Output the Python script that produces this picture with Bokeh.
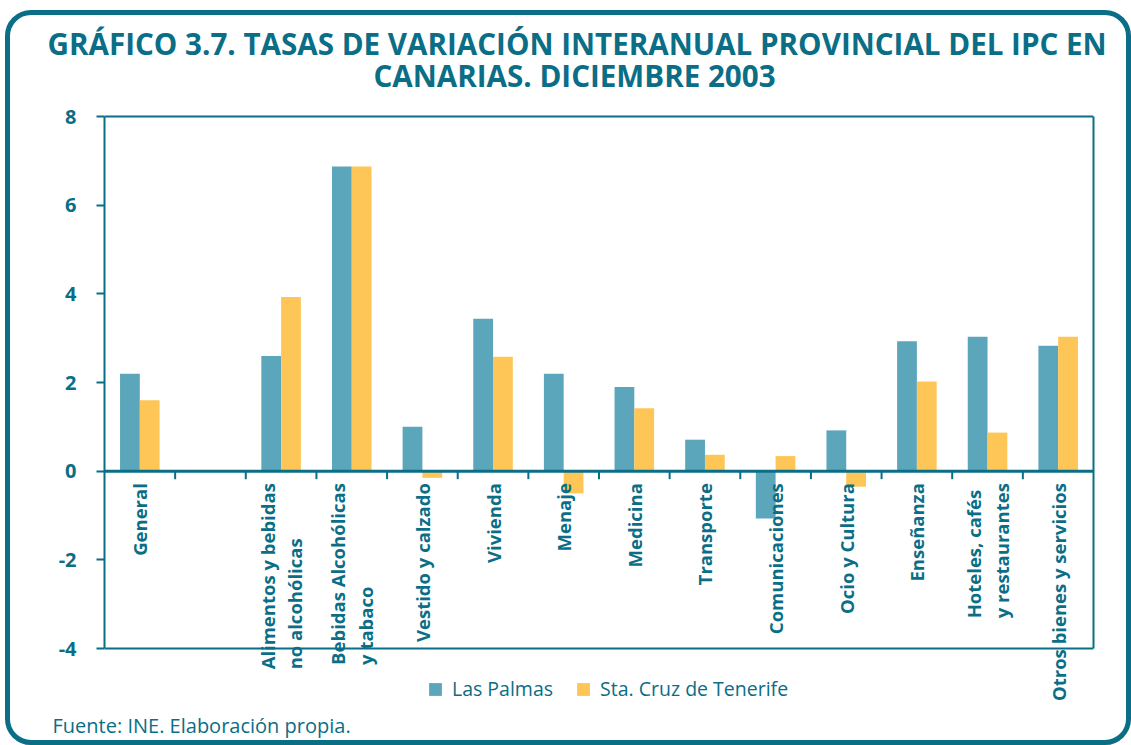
import math
from bokeh.plotting import figure
from bokeh.models import (ColumnDataSource, FactorRange, Range1d, LabelSet, Title,
                          Legend, LegendItem, Span, LinearAxis, InlineStyleSheet)
from bokeh.transform import dodge
from bokeh.core.properties import value
from bokeh.embed import file_html
from bokeh.resources import INLINE

NaN = float("nan")

categories = [
    "General", " ", "Alimentos y bebidas\nno alcohólicas", "Bebidas Alcohólicas\ny tabaco",
    "Vestido y calzado", "Vivienda", "Menaje", "Medicina", "Transporte", "Comunicaciones",
    "Ocio y Cultura", "Enseñanza", "Hoteles, cafés\ny restaurantes", "Otros bienes y servicios",
]
las_palmas = [2.2, NaN, 2.6, 6.87, 1.0, 3.44, 2.2, 1.9, 0.71, -1.07, 0.92, 2.93, 3.03, 2.83]
tenerife = [1.6, NaN, 3.93, 6.87, -0.15, 2.58, -0.5, 1.42, 0.37, 0.34, -0.35, 2.02, 0.87, 3.03]
series_names = ["Las Palmas", "Sta. Cruz de Tenerife"]
y_ticks = [-4, -2, 0, 2, 4, 6, 8]
title_lines = ["GRÁFICO 3.7. TASAS DE VARIACIÓN INTERANUAL PROVINCIAL DEL IPC EN",
               "CANARIAS. DICIEMBRE 2003"]
source_text = "Fuente: INE. Elaboración propia."

TEAL = "#0A6E86"
BLUE = "#5CA6BC"
ORANGE = "#FEC656"
FONT = "Open Sans"

src = ColumnDataSource(dict(cat=categories, lp=las_palmas, tf=tenerife,
                            zero=[0] * len(categories)))

# frame: x 104..1093, y 114..708 ; y=8 at 116, y=-4 at 648
px_per_unit = (648 - 116) / (y_ticks[-1] - y_ticks[0])
y_end = y_ticks[-1] + 2 / px_per_unit
y_start = y_ticks[0] - 60 / px_per_unit

p = figure(width=1131, height=745, output_backend="svg", toolbar_location=None, title=None,
           x_range=FactorRange(*categories, range_padding=0, factor_padding=0),
           y_range=Range1d(y_start, y_end),
           min_border_left=104, min_border_right=38, min_border_top=114, min_border_bottom=37)
p.background_fill_color = "white"
p.border_fill_color = "white"
p.outline_line_color = None
p.xgrid.visible = False
p.ygrid.visible = False
p.xaxis.visible = False

# rounded outer frame (CSS on the plot host)
p.stylesheets = [InlineStyleSheet(css=(
    ":host::after { content: ''; position: absolute; left: 5px; top: 10px; right: 0px; "
    "bottom: 0px; border: 5px solid " + TEAL + "; border-radius: 26px; box-sizing: border-box; "
    "pointer-events: none; z-index: 10; }"))]

# title lines (added nearest-first)
p.add_layout(Title(text=title_lines[1], align="left", offset=269, standoff=37,
                   text_font=FONT, text_font_size="29.6px", text_font_style="bold",
                   text_color=TEAL), "above")
p.add_layout(Title(text=title_lines[0], align="left", offset=-57, standoff=-58,
                   text_font=FONT, text_font_size="29.6px", text_font_style="bold",
                   text_color=TEAL), "above")

# source note
p.add_layout(Title(text=source_text, align="left", offset=-52, standoff=2,
                   text_font=FONT, text_font_size="20px", text_font_style="normal",
                   text_color=TEAL), "below")

# y axis
ax = p.yaxis[0]
ax.ticker = y_ticks
ax.bounds = (y_ticks[0], y_ticks[-1])
ax.axis_line_color = TEAL
ax.axis_line_width = 2
ax.major_tick_line_color = TEAL
ax.major_tick_line_width = 2
ax.major_tick_out = 8
ax.major_tick_in = 0
ax.minor_tick_line_color = None
ax.major_label_text_font = FONT
ax.major_label_text_font_style = "bold"
ax.major_label_text_font_size = "20px"
ax.major_label_text_color = TEAL
ax.major_label_standoff = 20
ax.major_label_overrides = {t: str(t) for t in y_ticks}

ax2 = LinearAxis(ticker=y_ticks, bounds=(y_ticks[0], y_ticks[-1]), axis_line_color=TEAL,
                 axis_line_width=2, major_tick_line_color=None, minor_tick_line_color=None,
                 major_label_text_font_size="0px", major_label_text_color=None)
p.add_layout(ax2, "right")

r1 = p.vbar(x=dodge("cat", -0.14, range=p.x_range), top="lp", width=0.28, source=src,
            fill_color=BLUE, line_color=None)
r2 = p.vbar(x=dodge("cat", 0.14, range=p.x_range), top="tf", width=0.28, source=src,
            fill_color=ORANGE, line_color=None)

# box lines and zero line
p.add_layout(Span(location=y_ticks[-1], dimension="width", line_color=TEAL, line_width=2))
p.add_layout(Span(location=y_ticks[0], dimension="width", line_color=TEAL, line_width=2))
p.add_layout(Span(location=0, dimension="width", line_color=TEAL, line_width=3))
bounds = list(range(1, len(categories)))
p.segment(x0=bounds, x1=bounds, y0=[0] * len(bounds), y1=[-0.18] * len(bounds),
          line_color=TEAL, line_width=2)

# category labels hanging from zero line
labels = LabelSet(x="cat", y="zero", text="cat", source=src, angle=math.pi / 2,
                  text_align="right", text_baseline="middle", y_offset=-12,
                  text_font=value(FONT), text_font_style="bold", text_font_size="18.5px",
                  text_line_height=1.1, text_color=TEAL)
p.add_layout(labels)

legend = Legend(items=[LegendItem(label=series_names[0], renderers=[r1]),
                       LegendItem(label=series_names[1], renderers=[r2])],
                orientation="horizontal", location=(323, 6), padding=0, margin=0,
                spacing=22, label_standoff=9, glyph_width=16, glyph_height=16,
                label_text_font=FONT, label_text_font_size="19.5px", label_text_color=TEAL,
                background_fill_alpha=0, border_line_color=None)
p.add_layout(legend)

open("out.html", "w").write(file_html(p, INLINE))
